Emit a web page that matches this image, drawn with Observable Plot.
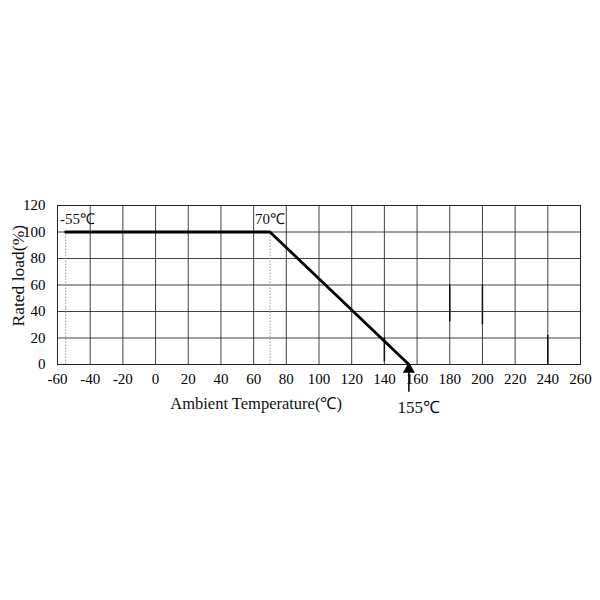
<!DOCTYPE html>
<html>
<head>
<meta charset="utf-8">
<script src="https://cdn.jsdelivr.net/npm/d3@7"></script>
<script src="https://cdn.jsdelivr.net/npm/@observablehq/plot@0.6"></script>
<style>
  html, body { margin: 0; padding: 0; background: #fff; }
</style>
</head>
<body>
<div id="chart"></div>
<script>
// Derating curve
const curveTemp = [-55, 70, 155];
const curveLoad = [100, 100, 0];

// Dotted guides at the corner temperatures
const guideTemp = [-55, 70];
const guideLoad = [100, 100];

// Short stray vertical strokes visible on the chart
const strokeTemp = [140, 180, 200, 240];
const strokeTop = [20, 60, 60, 22];
const strokeBottom = [2, 32, 30, 0];

// Tick values
const xTicks = [-60, -40, -20, 0, 20, 40, 60, 80, 100, 120, 140, 160, 180, 200, 220, 240, 260];
const yTicks = [0, 20, 40, 60, 80, 100, 120];

// Annotations
const leftLabel = ["-55℃"];
const leftLabelTemp = [-58.5];
const leftLabelLoad = [110];
const rightLabel = ["70℃"];
const rightLabelTemp = [70];
const rightLabelLoad = [110];

const arrowTemp = [155];
const arrowTail = [-21];
const arrowHead = [-3.5];
const arrowLabel = ["155℃"];
const arrowLabelLoad = [-32.5];
const arrowLabelTemp = [161];

const xTitle = ["Ambient Temperature(℃)"];
const xTitleTemp = [61.5];
const xTitleLoad = [-29.5];

const yTitle = ["Rated load(%)"];
const yTitleTemp = [-84];
const yTitleLoad = [67];

const curve = curveTemp.map((t, i) => ({t, v: curveLoad[i]}));
const guides = guideTemp.map((t, i) => ({t, v: guideLoad[i]}));
const strokes = strokeTemp.map((t, i) => ({t, y1: strokeTop[i], y2: strokeBottom[i]}));

const chart = Plot.plot({
  width: 600,
  height: 600,
  marginLeft: 57,
  marginRight: 20,
  marginTop: 205,
  marginBottom: 236,
  style: {fontFamily: "'Liberation Serif', 'Times New Roman', serif", fontSize: "15px", background: "#fff", color: "#000"},
  x: {domain: [-60, 260], ticks: xTicks, tickSize: 0, tickPadding: 9, label: null, tickFormat: d => String(d)},
  y: {domain: [0, 120], ticks: yTicks, tickSize: 0, tickPadding: 12, label: null, tickFormat: d => String(d)},
  marks: [
    Plot.gridX(xTicks, {stroke: "#222", strokeOpacity: 0.85, strokeWidth: 1}),
    Plot.gridY(yTicks, {stroke: "#222", strokeOpacity: 0.85, strokeWidth: 1}),
    Plot.frame({stroke: "#222", strokeWidth: 1}),
    Plot.ruleX(guides, {x: "t", y1: 0, y2: "v", stroke: "#999", strokeDasharray: "1.5,1.5", strokeWidth: 1}),
    Plot.ruleX(strokes, {x: "t", y1: "y1", y2: "y2", stroke: "#111", strokeWidth: 1.5}),
    Plot.line(curve, {x: "t", y: "v", stroke: "#000", strokeWidth: 2.8}),
    Plot.text(leftLabel, {x: leftLabelTemp, y: leftLabelLoad, text: d => d, textAnchor: "start", fontSize: 15, fill: "#111"}),
    Plot.text(rightLabel, {x: rightLabelTemp, y: rightLabelLoad, text: d => d, textAnchor: "middle", fontSize: 15, fill: "#111"}),
    Plot.ruleX(arrowTemp, {x: d => d, y1: arrowTail, y2: arrowHead, stroke: "#000", strokeWidth: 1.5}),
    Plot.dot(arrowTemp, {x: d => d, y: arrowHead, symbol: "triangle", r: 4.5, fill: "#000", stroke: "none"}),
    Plot.text(arrowLabel, {x: arrowLabelTemp, y: arrowLabelLoad, text: d => d, fontSize: 17, fill: "#111"}),
    Plot.text(xTitle, {x: xTitleTemp, y: xTitleLoad, text: d => d, fontSize: 16.5, fill: "#111"}),
    Plot.text(yTitle, {x: yTitleTemp, y: yTitleLoad, text: d => d, fontSize: 17.5, rotate: -90, fill: "#111"})
  ]
});
document.getElementById("chart").appendChild(chart);
</script>
</body>
</html>
